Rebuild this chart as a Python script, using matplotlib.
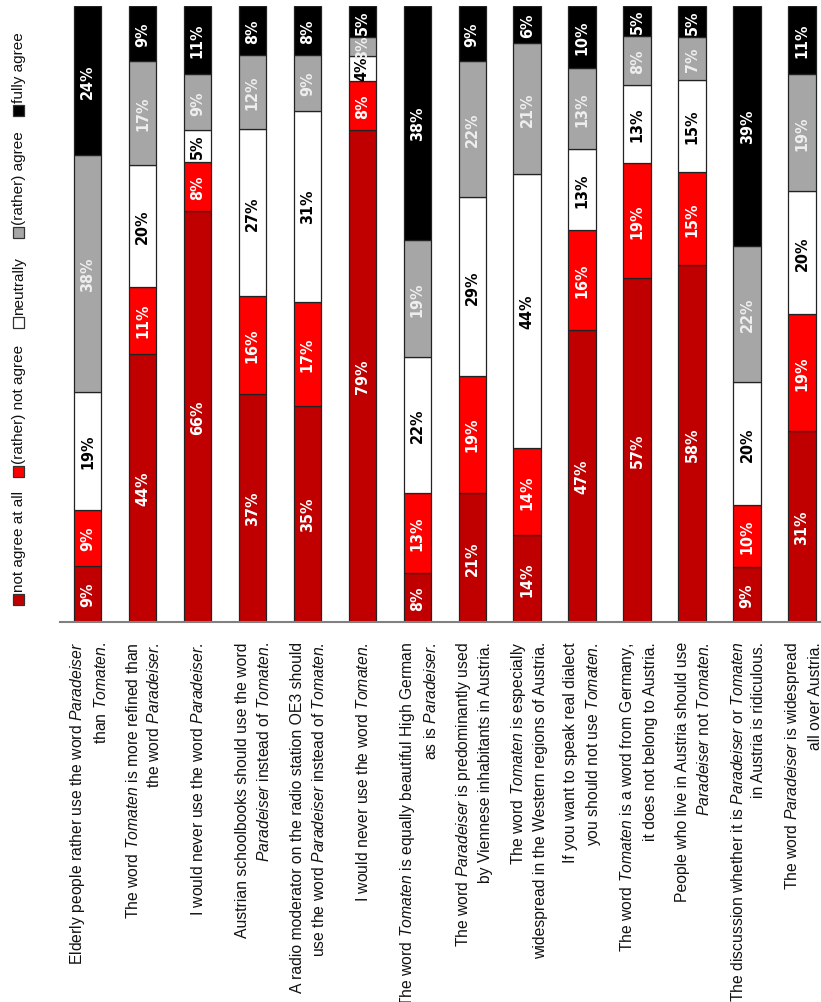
import matplotlib
matplotlib.use("Agg")
import matplotlib.pyplot as plt
from matplotlib.patches import Rectangle
from matplotlib import font_manager
import numpy as np

text_font = "Liberation Sans"

# a narrow bold face for the percent labels, if the system has one
pct_prop = None
pct_size = 12
for f in font_manager.fontManager.ttflist:
    fn = f.fname.replace("-", "").replace("_", "").lower()
    if ("narrowbold" in fn or "condensedbold" in fn) and fn.endswith((".ttf", ".otf")):
        pct_prop = font_manager.FontProperties(fname=f.fname)
        pct_size = 11.5
        break

plt.rcParams["font.family"] = [text_font, "DejaVu Sans"]
plt.rcParams["mathtext.fontset"] = "custom"
plt.rcParams["mathtext.rm"] = text_font
plt.rcParams["mathtext.it"] = text_font + ":italic"

statements = [
    "Elderly people rather use the word $\\mathit{Paradeiser}$\nthan $\\mathit{Tomaten}$.",
    "The word $\\mathit{Tomaten}$ is more refined than\nthe word $\\mathit{Paradeiser}$.",
    "I would never use the word $\\mathit{Paradeiser}$.",
    "Austrian schoolbooks should use the word\n$\\mathit{Paradeiser}$ instead of $\\mathit{Tomaten}$.",
    "A radio moderator on the radio station OE3 should\nuse the word $\\mathit{Paradeiser}$ instead of $\\mathit{Tomaten}$.",
    "I would never use the word $\\mathit{Tomaten}$.",
    "The word $\\mathit{Tomaten}$ is equally beautiful High German\nas is $\\mathit{Paradeiser}$.",
    "The word $\\mathit{Paradeiser}$ is predominantly used\nby Viennese inhabitants in Austria.",
    "The word $\\mathit{Tomaten}$ is especially\nwidespread in the Western regions of Austria.",
    "If you want to speak real dialect\nyou should not use $\\mathit{Tomaten}$.",
    "The word $\\mathit{Tomaten}$ is a word from Germany,\nit does not belong to Austria.",
    "People who live in Austria should use\n$\\mathit{Paradeiser}$ not $\\mathit{Tomaten}$.",
    "The discussion whether it is $\\mathit{Paradeiser}$ or $\\mathit{Tomaten}$\nin Austria is ridiculous.",
    "The word $\\mathit{Paradeiser}$ is widespread\nall over Austria.",
]

categories = ["not agree at all", "(rather) not agree", "neutrally", "(rather) agree", "fully agree"]
not_at_all = [9, 44, 66, 37, 35, 79, 8, 21, 14, 47, 57, 58, 9, 31]
rather_not = [9, 11, 8, 16, 17, 8, 13, 19, 14, 16, 19, 15, 10, 19]
neutral = [19, 20, 5, 27, 31, 4, 22, 29, 44, 13, 13, 15, 20, 20]
rather_agree = [38, 17, 9, 12, 9, 3, 19, 22, 21, 13, 8, 7, 22, 19]
fully = [24, 9, 11, 8, 8, 5, 38, 9, 6, 10, 5, 5, 39, 11]

colors = ["#C00000", "#FF0000", "#FFFFFF", "#A6A6A6", "#000000"]
txt_colors = ["white", "white", "black", "#EEEEEE", "white"]

series = np.array([not_at_all, rather_not, neutral, rather_agree, fully], dtype=float)
totals = series.sum(axis=0)
shares = series / totals * 100

W, H = 821, 1003
fig = plt.figure(figsize=(W / 100, H / 100), dpi=100)
ax = fig.add_axes([60 / W, 380 / H, 761 / W, 616 / H])

x = np.arange(len(statements))
bottom = np.zeros(len(statements))
for k in range(5):
    ax.bar(x, shares[k], 0.5, bottom=bottom, color=colors[k],
           edgecolor="#222222", linewidth=0.9, zorder=2)
    for i in x:
        t = ax.text(i, bottom[i] + shares[k][i] / 2, f"{int(series[k][i])}%",
                    rotation=90, ha="center", va="center",
                    color=txt_colors[k], zorder=3)
        if pct_prop is not None:
            t.set_fontproperties(pct_prop)
        else:
            t.set_fontweight("bold")
        t.set_fontsize(pct_size)
    bottom += shares[k]

ax.set_xlim(-0.5, 13.345)
ax.set_ylim(0, 100)
ax.set_xticks([])
ax.set_yticks([])
for s in ["top", "left", "right"]:
    ax.spines[s].set_visible(False)
ax.spines["bottom"].set_color("#808080")
ax.spines["bottom"].set_linewidth(1.5)
ax.spines["bottom"].set_zorder(4)

for i, lab in zip(x, statements):
    ax.annotate(lab, xy=(i, 0), xycoords=("data", "axes fraction"),
                xytext=(1, -19), textcoords="offset pixels", rotation=90,
                ha="center", va="top", multialignment="right",
                fontsize=11.3, linespacing=1.45, color="#111111",
                annotation_clip=False)

# legend, rotated like the chart
sq_centers = [600, 472, 323, 233, 111]
for c, cy, name in zip(colors, sq_centers, categories):
    fig.patches.append(Rectangle((13 / W, 1 - (cy + 5.5) / H), 11 / W, 11 / H,
                                 transform=fig.transFigure, facecolor=c,
                                 edgecolor="#333333", linewidth=0.9))
    fig.text(19 / W, 1 - (cy - 8) / H, name, rotation=90, ha="center",
             va="bottom", fontsize=11, color="#111111")

fig.savefig("out.png", dpi=100)
